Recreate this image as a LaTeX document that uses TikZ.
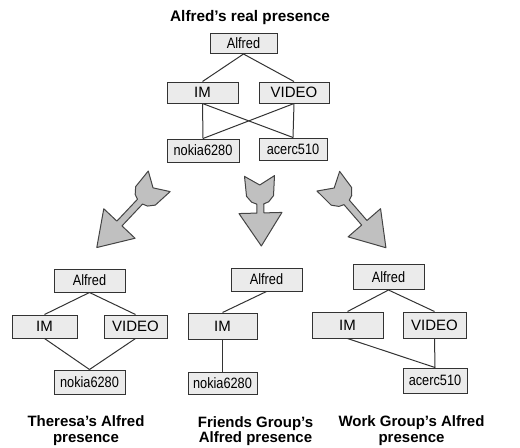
\documentclass[tikz,border=0pt]{standalone}
\usepackage{fontspec}
\setmainfont{Liberation Sans}
\newfontfamily\narrowsans[FakeStretch=0.85]{Liberation Sans}
\definecolor{boxfill}{HTML}{EBEBEB}
\definecolor{boxline}{HTML}{333333}
\definecolor{linkc}{HTML}{333333}
\definecolor{arrowfill}{HTML}{C0C0C0}
\definecolor{arrowline}{HTML}{444444}
\newcommand{\fletcharrow}[3]{%
  \path[bigarrow, shift={#1}, rotate=#2]
    (0,15) -- (9,0) -- (0,-15) -- (20,-13.5) -- (26,-8.5) -- (28,-3.5)
    -- ({37+#3},-3.5) -- ({37+#3},-21.5) -- ({70+#3},0) -- ({37+#3},21.5)
    -- ({37+#3},3.5) -- (28,3.5) -- (26,8.5) -- (20,13.5) -- cycle;}
\begin{document}
\begin{tikzpicture}[x=0.75pt,y=-0.75pt,
  sz/.style 2 args={minimum width={#1*0.75pt}, minimum height={#2*0.75pt}},
  box/.style={draw=boxline, fill=boxfill, line width=0.75pt, inner sep=0pt,
    font=\fontsize{11.25}{13}\selectfont},
  nbox/.style={box, font=\narrowsans\fontsize{11.25}{13}\selectfont},
  link/.style={draw=linkc, line width=0.75pt},
  bigarrow/.style={draw=arrowline, fill=arrowfill, line width=0.75pt, line join=round},
  toptitle/.style={font=\bfseries\fontsize{11.5}{13.5}\selectfont, inner sep=0pt},
  title/.style={font=\bfseries\fontsize{11.25}{11.75}\selectfont, align=center, inner sep=0pt, anchor=north}]
\useasboundingbox (0,0) rectangle (520,447);

% ---------- top graph ----------
\node[toptitle] (t0) at (250,17.5) {Alfred’s real presence};
\node[nbox, sz={67}{20}] (a0) at (243.5,43.5) {Alfred};
\node[box, sz={71}{21}] (im0) at (202.5,92.5) {IM};
\node[box, sz={70}{21}] (vi0) at (294,92.5) {VIDEO};
\node[nbox, sz={72}{23}] (no0) at (203,150.5) {nokia6280};
\node[nbox, sz={68}{22}] (ac0) at (293,149) {acerc510};
\draw[link] (a0.south) -- (im0.north);
\draw[link] (a0.south) -- (vi0.north);
\draw[link] (im0.south) -- (no0.north);
\draw[link] (im0.south) -- (ac0.north);
\draw[link] (vi0.south) -- (ac0.north);
\draw[link] (vi0.south) -- (no0.north);

% ---------- big arrows ----------
\fletcharrow{(159.2,181.3)}{-133.3}{21}
\fletcharrow{(259.5,176)}{-88.5}{0}
\fletcharrow{(328.3,181.2)}{-49.1}{18}

% ---------- left graph ----------
\node[nbox, sz={71}{23}] (a1) at (89.5,280.5) {Alfred};
\node[box, sz={65}{23}] (im1) at (44.5,326.5) {IM};
\node[box, sz={63}{23}] (vi1) at (135.5,326.5) {VIDEO};
\node[nbox, sz={71}{24}] (no1) at (89.5,382) {nokia6280};
\draw[link] (a1.south) -- (im1.north);
\draw[link] (a1.south) -- (vi1.north);
\draw[link] (im1.south) -- (no1.north);
\draw[link] (vi1.south) -- (no1.north);
\node[title] (t1) at (86,415.5) {Theresa’s Alfred\\presence};

% ---------- middle graph ----------
\node[nbox, sz={71}{23}] (a2) at (266.5,279.5) {Alfred};
\node[box, sz={69}{26}] (im2) at (222.5,326) {IM};
\node[nbox, sz={69}{22}] (no2) at (222.5,383) {nokia6280};
\draw[link] (a2.south) -- (im2.north);
\draw[link] (im2.south) -- (no2.north);
\node[title] (t2) at (255.5,416) {Friends Group’s\\Alfred presence};

% ---------- right graph ----------
\node[nbox, sz={71}{25}] (a3) at (388.5,277) {Alfred};
\node[box, sz={71}{26}] (im3) at (347.5,325) {IM};
\node[box, sz={63}{26}] (vi3) at (434.5,325) {VIDEO};
\node[nbox, sz={64}{25}] (ac3) at (435,380.5) {acerc510};
\draw[link] (a3.south) -- (im3.north);
\draw[link] (a3.south) -- (vi3.north);
\draw[link] (im3.south) -- (ac3.north);
\draw[link] (vi3.south) -- (ac3.north);
\node[title] (t3) at (411.5,415.5) {Work Group’s Alfred\\presence};
\end{tikzpicture}
\end{document}
